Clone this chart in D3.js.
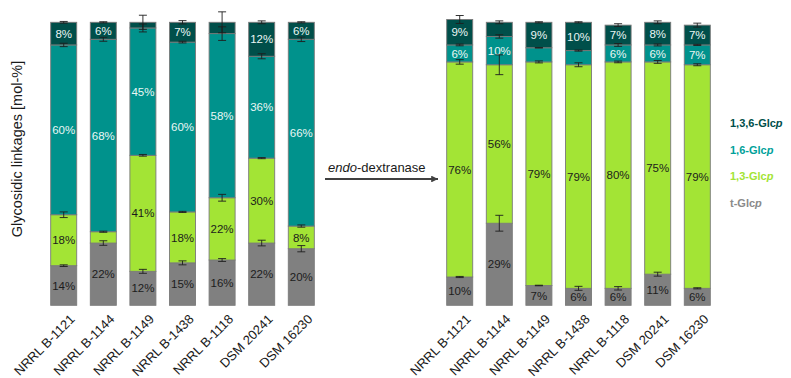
<!DOCTYPE html>
<html>
<head>
<meta charset="utf-8">
<script src="https://cdn.jsdelivr.net/npm/d3@7"></script>
<style>
  html, body { margin: 0; padding: 0; background: #ffffff; }
  svg { display: block; font-family: "Liberation Sans", Arial, sans-serif; }
</style>
</head>
<body>
<svg id="chart" width="791" height="378"></svg>
<script>
// Strains analysed
const strains = ["NRRL B-1121", "NRRL B-1144", "NRRL B-1149", "NRRL B-1438", "NRRL B-1118", "DSM 20241", "DSM 16230"];

// Linkage types, stacked bottom to top
const linkages = ["t-Glcp", "1,3-Glcp", "1,6-Glcp", "1,3,6-Glcp"];
const linkageColors = ["#808080", "#a3e435", "#00928c", "#004f4a"];
const legendColors = ["#8a8a8a", "#a3e435", "#00a19a", "#004f4a"];

// Native glucans, mol-%
const nativeT    = [14, 22, 12, 15, 16, 22, 20];
const native13   = [18, 4, 41, 18, 22, 30, 8];
const native16   = [60, 68, 45, 60, 58, 36, 66];
const native136  = [8, 6, 2, 7, 4, 12, 6];
// Standard deviations, mol-%
const nativeTErr   = [0.3, 0.8, 0.7, 0.7, 0.5, 1.0, 1.1];
const native13Err  = [1.0, 0.2, 0.3, 0.2, 1.2, 0.2, 0.4];
const native16Err  = [0.6, 0.7, 1.4, 0.3, 2.4, 0.9, 0.8];
const native136Err = [0.3, 0.2, 2.5, 0.6, 3.7, 0.5, 0.2];

// Oligosaccharides after endo-dextranase digestion, mol-%
const digestT    = [10, 29, 7, 6, 6, 11, 6];
const digest13   = [76, 56, 79, 79, 80, 75, 79];
const digest16   = [6, 10, 5, 5, 6, 6, 7];
const digest136  = [9, 5, 9, 10, 7, 8, 7];
const digestTErr   = [0.2, 2.8, 0.1, 0.7, 0.6, 0.7, 0.2];
const digest13Err  = [0.8, 3.5, 0.35, 0.7, 0.3, 0.5, 0.35];
const digest16Err  = [0.3, 0.6, 0.1, 0.2, 0.5, 0.35, 0.2];
const digest136Err = [1.4, 0.5, 0.2, 0.2, 0.5, 0.5, 0.7];

const svg = d3.select("#chart");

const y = d3.scaleLinear().domain([0, 100]).range([305.3, 22.3]);

function buildRows(series, errors) {
  return strains.map((s, i) => {
    const row = { strain: s };
    linkages.forEach((k, j) => { row[k] = series[j][i]; row[k + "_err"] = errors[j][i]; });
    return row;
  });
}

function drawPanel(x0, x1, series, errors) {
  const x = d3.scaleBand().domain(strains).range([x0, x1]).paddingInner(0.343).paddingOuter(0.1717);
  const rows = buildRows(series, errors);
  const stacked = d3.stack().keys(linkages)(rows);
  const g = svg.append("g");

  const layers = g.selectAll("g.layer").data(stacked).join("g")
    .attr("class", "layer")
    .attr("fill", (d, i) => linkageColors[i]);

  layers.selectAll("rect").data(d => d).join("rect")
    .attr("x", d => x(d.data.strain))
    .attr("width", x.bandwidth())
    .attr("y", d => y(d[1]))
    .attr("height", d => y(d[0]) - y(d[1]))
    .attr("stroke", "#7a7a7a")
    .attr("stroke-width", 0.9);

  // value labels, for segments large enough to hold them
  stacked.forEach((layer, i) => {
    g.append("g").selectAll("text")
      .data(layer.filter(d => d[1] - d[0] >= 6))
      .join("text")
      .attr("x", d => x(d.data.strain) + x.bandwidth() / 2)
      .attr("y", d => y((d[0] + d[1]) / 2))
      .attr("dy", "0.36em")
      .attr("text-anchor", "middle")
      .attr("font-size", 11.5)
      .attr("fill", i >= 2 ? "#eaf6f4" : "#1c1c1c")
      .text(d => Math.round(d[1] - d[0]) + "%");
  });

  // error bars at the top of each segment
  stacked.forEach((layer) => {
    const key = layer.key;
    const eg = g.append("g").attr("stroke", "#1e1e1e").attr("stroke-width", 0.9);
    layer.forEach(d => {
      const cx = x(d.data.strain) + x.bandwidth() / 2;
      const e = d.data[key + "_err"];
      const yt = y(d[1] + e), yb = y(d[1] - e);
      eg.append("line").attr("x1", cx).attr("x2", cx).attr("y1", yt).attr("y2", yb);
      eg.append("line").attr("x1", cx - 4).attr("x2", cx + 4).attr("y1", yt).attr("y2", yt);
      eg.append("line").attr("x1", cx - 4).attr("x2", cx + 4).attr("y1", yb).attr("y2", yb);
    });
  });

  // rotated strain names
  g.append("g").selectAll("text").data(strains).join("text")
    .attr("transform", s => `translate(${x(s) + x.bandwidth() / 2 + 12},${320}) rotate(-45)`)
    .attr("text-anchor", "end")
    .attr("font-size", 13)
    .attr("fill", "#1a1a1a")
    .text(s => s);
}

drawPanel(43.9, 321.1, [nativeT, native13, native16, native136], [nativeTErr, native13Err, native16Err, native136Err]);
drawPanel(439.9, 717.1, [digestT, digest13, digest16, digest136], [digestTErr, digest13Err, digest16Err, digest136Err]);

// y-axis title
svg.append("text")
  .attr("transform", "translate(22,149) rotate(-90)")
  .attr("text-anchor", "middle")
  .attr("font-size", 14.5)
  .attr("fill", "#1a1a1a")
  .text("Glycosidic linkages [mol-%]");

// digestion arrow
svg.append("defs").append("marker")
  .attr("id", "head").attr("viewBox", "0 0 10 10")
  .attr("refX", 10).attr("refY", 5)
  .attr("markerWidth", 6).attr("markerHeight", 3.4)
  .attr("markerUnits", "strokeWidth")
  .attr("orient", "auto")
  .append("path").attr("d", "M0,0 L10,5 L0,10 Z").attr("fill", "#404040");
svg.append("line")
  .attr("x1", 325).attr("x2", 438).attr("y1", 179).attr("y2", 179)
  .attr("stroke", "#404040").attr("stroke-width", 2)
  .attr("marker-end", "url(#head)");
const arrowLabel = svg.append("text").attr("x", 328).attr("y", 171.5).attr("font-size", 13).attr("fill", "#1a1a1a");
arrowLabel.append("tspan").attr("font-style", "italic").text("endo");
arrowLabel.append("tspan").text("-dextranase");

// legend, top to bottom
const legendOrder = [3, 2, 1, 0];
const lg = svg.append("g").attr("font-size", 11).attr("font-weight", "bold");
legendOrder.forEach((idx, r) => {
  const name = linkages[idx];
  const t = lg.append("text").attr("x", 730).attr("y", 127 + r * 26.7).attr("fill", legendColors[idx]);
  t.append("tspan").text(name.slice(0, -1));
  t.append("tspan").attr("font-style", "italic").text("p");
});
</script>
</body>
</html>
